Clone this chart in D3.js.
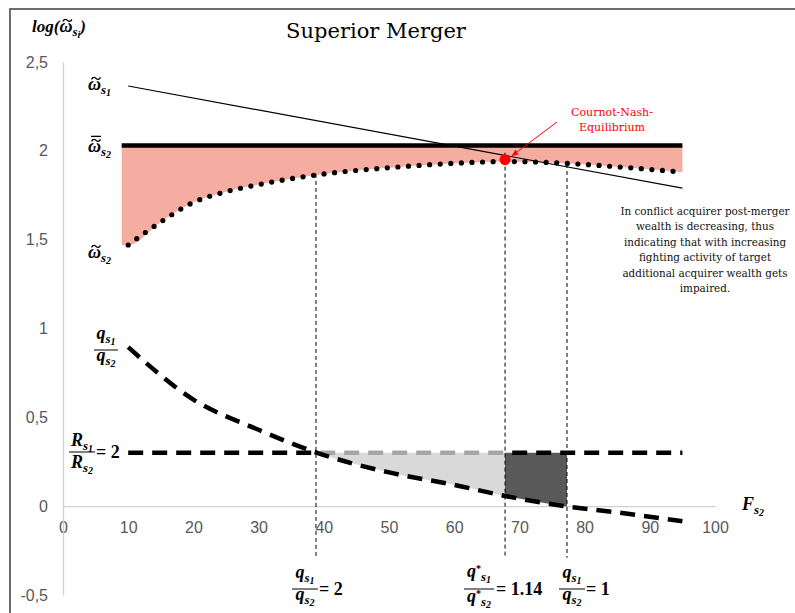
<!DOCTYPE html>
<html>
<head>
<meta charset="utf-8">
<script src="https://cdn.jsdelivr.net/npm/d3@7"></script>
<style>
  body { margin: 0; background: #fff; }
  svg { display: block; }
  .math { font-family: 'Liberation Serif', serif; font-weight: bold; font-style: italic; fill: #000; }
  .tick text { font-family: 'Liberation Sans Narrow', 'Liberation Sans', Arial, sans-serif; font-size: 16px; fill: #595959; }
</style>
</head>
<body>
<svg id="chart" width="795" height="613"></svg>
<script>
// ---- datos ----
const xTicks = [0, 10, 20, 30, 40, 50, 60, 70, 80, 90, 100];
const yTicks = [-0.5, 0, 0.5, 1, 1.5, 2, 2.5];

// omega~ s1 (linea fina)
const omegaS1X = [10, 95];
const omegaS1Y = [2.365, 1.79];

// omega barra s2 (linea gruesa)
const omegaBarX = [9, 95];
const omegaBarY = 2.03;

// omega~ s2 (puntos)
const omegaS2X = [10, 15, 20, 25, 30, 40, 50, 60, 68, 77, 85, 95];
const omegaS2Y = [1.47, 1.60, 1.71, 1.77, 1.81, 1.87, 1.905, 1.93, 1.94, 1.93, 1.91, 1.88];
const pinkStart = [9, 1.47];

// q_s1 / q_s2 (discontinua gruesa)
const qRatioX = [10, 20, 30, 39, 50, 60, 68, 77, 85, 95];
const qRatioY = [0.895, 0.60, 0.43, 0.30, 0.19, 0.12, 0.056, 0.0, -0.035, -0.085];

// R_s1 / R_s2 = 2
const rRatioX = [10, 95];
const rRatioY = 0.3;

// lineas verticales de referencia
const markX = [38.8, 67.8, 77.3];
const markTop = [1.87, 1.99, 1.926];
const markBottom = -0.29;

// equilibrio Cournot-Nash
const nash = [67.8, 1.95];

const annotLines = [
  'In conflict acquirer post-merger',
  'wealth is decreasing, thus',
  'indicating that with increasing',
  'fighting activity of target',
  'additional acquirer wealth gets',
  'impaired.'
];

// ---- escalas ----
const svg = d3.select('#chart');
const x = d3.scaleLinear().domain([0, 100]).range([63, 715]);
const y = d3.scaleLinear().domain([-0.5, 2.5]).range([595, 62]);

const defs = svg.append('defs');
defs.append('marker').attr('id', 'arrowRed')
  .attr('viewBox', '0 0 10 10').attr('refX', 9).attr('refY', 5)
  .attr('markerWidth', 7).attr('markerHeight', 7).attr('orient', 'auto')
  .append('path').attr('d', 'M0,1 L10,5 L0,9 Z').attr('fill', '#ff0000');

const clip = (id, x0, x1) => defs.append('clipPath').attr('id', id)
  .append('rect').attr('x', x0).attr('y', 0).attr('width', x1 - x0).attr('height', 613);
clip('clipLight', x(markX[0]), x(markX[1]));
clip('clipDark', x(markX[1]), x(markX[2]));
const outside = defs.append('clipPath').attr('id', 'clipOut');
outside.append('rect').attr('x', 0).attr('y', 0).attr('width', x(markX[0])).attr('height', 613);
outside.append('rect').attr('x', x(markX[1])).attr('y', 0).attr('width', 800).attr('height', 613);

// marco
svg.append('rect').attr('x', 10).attr('y', 9).attr('width', 800).attr('height', 700)
  .attr('fill', 'none').attr('stroke', '#5e5e5e').attr('stroke-width', 1.8);

// ejes
const gx = svg.append('g').attr('transform', `translate(0,${y(0)})`)
  .call(d3.axisBottom(x).tickValues(xTicks).tickSize(0).tickSizeOuter(0).tickPadding(15).tickFormat(d3.format('d')));
const gy = svg.append('g').attr('transform', `translate(${x(0)},0)`)
  .call(d3.axisLeft(y).tickValues(yTicks).tickSize(0).tickSizeOuter(0).tickPadding(15)
    .tickFormat(d => String(d).replace('.', ',')));
[gx, gy].forEach(g => g.select('.domain').attr('stroke', '#d0d0d0').attr('stroke-width', 1.3));

const line = d3.line().x(d => x(d[0])).y(d => y(d[1])).curve(d3.curveMonotoneX);

// area rosa entre barra y curva punteada
svg.append('path')
  .datum([pinkStart, ...d3.zip(omegaS2X, omegaS2Y)])
  .attr('fill', '#f5aca1')
  .attr('d', d3.area().x(d => x(d[0])).y0(y(omegaBarY)).y1(d => y(d[1])).curve(d3.curveMonotoneX));

svg.append('path').datum(omegaBarX.map(v => [v, omegaBarY]))
  .attr('fill', 'none').attr('stroke', '#000').attr('stroke-width', 4.5).attr('d', line);

svg.append('path').datum(d3.zip(omegaS1X, omegaS1Y))
  .attr('fill', 'none').attr('stroke', '#000').attr('stroke-width', 1.2).attr('d', line);

svg.append('path').datum(d3.zip(omegaS2X, omegaS2Y))
  .attr('fill', 'none').attr('stroke', '#000').attr('stroke-width', 5.2)
  .attr('stroke-linecap', 'round').attr('stroke-dasharray', '0 10.6').attr('d', line);

// areas grises entre R y q
const qData = d3.zip(qRatioX, qRatioY);
const gapArea = d3.area().x(d => x(d[0])).y0(y(rRatioY)).y1(d => y(d[1])).curve(d3.curveMonotoneX);
svg.append('path').datum(qData).attr('fill', '#d9d9d9').attr('clip-path', 'url(#clipLight)').attr('d', gapArea);
svg.append('path').datum(qData).attr('fill', '#595959').attr('clip-path', 'url(#clipDark)').attr('d', gapArea);

const rData = rRatioX.map(v => [v, rRatioY]);
svg.append('path').datum(rData).attr('fill', 'none').attr('stroke', '#000').attr('stroke-width', 4.5)
  .attr('stroke-dasharray', '15 9').attr('clip-path', 'url(#clipOut)').attr('d', line);
svg.append('path').datum(rData).attr('fill', 'none').attr('stroke', '#a6a6a6').attr('stroke-width', 4.5)
  .attr('stroke-dasharray', '15 9').attr('clip-path', 'url(#clipLight)').attr('d', line);

svg.append('path').datum(qData).attr('fill', 'none').attr('stroke', '#000').attr('stroke-width', 4.5)
  .attr('stroke-dasharray', '15 9').attr('d', line);

// verticales
svg.selectAll('line.mark').data(markX).join('line').attr('class', 'mark')
  .attr('x1', d => x(d)).attr('x2', d => x(d))
  .attr('y1', (d, i) => y(markTop[i])).attr('y2', y(markBottom))
  .attr('stroke', '#000').attr('stroke-width', 1).attr('stroke-dasharray', '4 3');

// punto Nash + flecha
svg.append('circle').attr('cx', x(nash[0])).attr('cy', y(nash[1])).attr('r', 5.5).attr('fill', '#ff0000');
svg.append('line').attr('x1', 557).attr('y1', 122).attr('x2', x(nash[0]) + 7).attr('y2', y(nash[1]) - 4)
  .attr('stroke', '#ff0000').attr('stroke-width', 1).attr('marker-end', 'url(#arrowRed)');
svg.append('text').attr('x', 612).attr('y', 116).attr('text-anchor', 'middle')
  .attr('font-family', 'DejaVu Serif').attr('font-size', 11).attr('fill', '#ff0000')
  .selectAll('tspan').data(['Cournot-Nash-', 'Equilibrium']).join('tspan')
  .attr('x', 612).attr('dy', (d, i) => i ? 15 : 0).text(d => d);

// titulo y nota
svg.append('text').attr('x', 376).attr('y', 38).attr('text-anchor', 'middle')
  .attr('font-family', 'DejaVu Serif').attr('font-size', 21).attr('fill', '#000').text('Superior Merger');

svg.append('text').attr('y', 215).attr('text-anchor', 'middle')
  .attr('font-family', 'DejaVu Serif').attr('font-size', 10.4).attr('fill', '#111')
  .selectAll('tspan').data(annotLines).join('tspan')
  .attr('x', 705).attr('dy', (d, i) => i ? 15.4 : 0).text(d => d);

// ---- etiquetas matematicas ----
function math(px, py, parts, anchor) {
  const t = svg.append('text').attr('class', 'math').attr('x', px).attr('y', py)
    .attr('text-anchor', anchor || 'start');
  let idx = 0, base = py;
  const marks = [];
  parts.forEach(p => {
    const ts = t.append('tspan').attr('font-size', p.s).attr('dy', p.dy || 0).text(p.t);
    if (p.dx) ts.attr('dx', p.dx);
    if (p.up) ts.attr('font-style', 'normal');
    base += p.dy || 0;
    if (p.tilde) marks.push({ i: idx, bar: p.bar, s: p.s, base });
    idx += p.t.length;
  });
  // tilde (y barra) dibujadas encima de omega
  marks.forEach(m => {
    const e = t.node().getExtentOfChar(m.i);
    const cx = e.x + e.width / 2 + 1.5;
    const ty = m.base - 0.48 * m.s - 3;
    svg.append('path')
      .attr('d', `M${cx - 4.5},${ty + 1} C${cx - 3},${ty - 2} ${cx - 1},${ty - 1} ${cx},${ty} S${cx + 3},${ty + 2} ${cx + 4.5},${ty - 1}`)
      .attr('fill', 'none').attr('stroke', '#000').attr('stroke-width', 1.3);
    if (m.bar) {
      svg.append('line').attr('x1', cx - 5).attr('x2', cx + 5).attr('y1', ty - 4).attr('y2', ty - 4)
        .attr('stroke', '#000').attr('stroke-width', 1.3);
    }
  });
  return t;
}
const sym = (b, s, n, extra) => [Object.assign({ t: b, s: 18 }, extra || {}), { t: s, s: 13, dy: 4 }, { t: n, s: 10, dy: 2 }];
const symStar = (b, s, n) => [{ t: b, s: 18 }, { t: '*', s: 10, dy: -5, up: true }, { t: s, s: 13, dy: 9 }, { t: n, s: 10, dy: 2 }];

function frac(cx, by, num, den, w, numDy, denDy) {
  math(cx, by - numDy, num, 'middle');
  math(cx, by + denDy, den, 'middle');
  svg.append('line').attr('x1', cx - w / 2).attr('x2', cx + w / 2).attr('y1', by).attr('y2', by)
    .attr('stroke', '#000').attr('stroke-width', 1);
}

math(32, 32, [{ t: 'log(', s: 17 }, { t: 'ω', s: 18, tilde: true }, { t: 's', s: 13, dy: 4 }, { t: 'i', s: 10, dy: 2 }, { t: ')', s: 17, dy: -6 }]);
math(88, 90, sym('ω', 's', '1', { tilde: true }));
math(88, 152, sym('ω', 's', '2', { tilde: true, bar: true }));
math(88, 258, sym('ω', 's', '2', { tilde: true }));

frac(106, 350, sym('q', 's', '1'), sym('q', 's', '2'), 24, 11, 11);
frac(82, 452, sym('R', 's', '1'), sym('R', 's', '2'), 26, 6, 16);
math(96, 458, [{ t: '= 2', s: 18, up: true }]);

frac(305, 589, sym('q', 's', '1'), sym('q', 's', '2'), 26, 11, 11);
math(319, 595, [{ t: '= 2', s: 18, up: true }]);

frac(479, 589, symStar('q', 's', '1'), symStar('q', 's', '2'), 30, 12, 13);
math(496, 595, [{ t: '= 1.14', s: 18, up: true }]);

frac(572, 589, sym('q', 's', '1'), sym('q', 's', '2'), 26, 11, 11);
math(586, 595, [{ t: '= 1', s: 18, up: true }]);

math(742, 510, sym('F', 's', '2'));
</script>
</body>
</html>
